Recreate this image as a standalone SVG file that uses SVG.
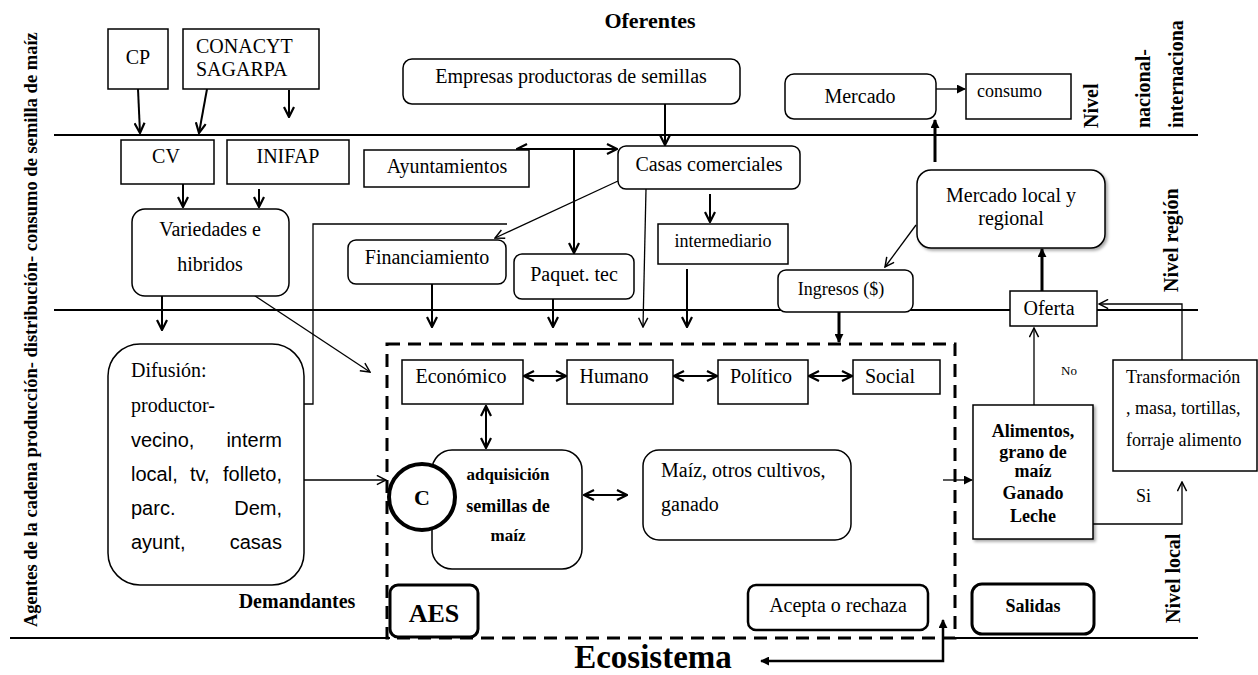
<svg xmlns="http://www.w3.org/2000/svg" width="1258" height="675" viewBox="0 0 1258 675">
<style>
text{font-family:"Liberation Serif","Times New Roman",serif;font-size:20px;fill:#000}
.b{font-weight:bold}
.m{text-anchor:middle}
.sans{font-family:"Liberation Sans",Arial,sans-serif}
.box{fill:#fff;stroke:#000;stroke-width:1.5}
.tb{fill:#fff;stroke:#000;stroke-width:3}
.ln{fill:none;stroke:#000;stroke-width:2}
.c{fill:none;stroke:#000;stroke-width:2}
.th{fill:none;stroke:#000;stroke-width:1.3}
.hk{fill:none;stroke:#000;stroke-width:3}
</style>
<defs>
<marker id="v" viewBox="0 0 12 12" refX="11" refY="6" markerWidth="12" markerHeight="12" markerUnits="userSpaceOnUse" orient="auto-start-reverse"><path d="M1,1 L11,6 L1,11" fill="none" stroke="#000" stroke-width="2.2"/></marker>
<marker id="vs" viewBox="0 0 12 12" refX="11" refY="6" markerWidth="11" markerHeight="11" markerUnits="userSpaceOnUse" orient="auto-start-reverse"><path d="M1,1 L11,6 L1,11" fill="none" stroke="#000" stroke-width="1.6"/></marker>
<marker id="t" viewBox="0 0 10 10" refX="9" refY="5" markerWidth="9" markerHeight="9" markerUnits="userSpaceOnUse" orient="auto-start-reverse"><path d="M0,0 L10,5 L0,10 z" fill="#000"/></marker>
<filter id="sh" x="-10%" y="-10%" width="130%" height="130%"><feDropShadow dx="2" dy="2" stdDeviation="1.5" flood-color="#000" flood-opacity="0.35"/></filter>
</defs>

<g id="level-lines">
<line class="ln" x1="54" y1="135" x2="1198" y2="135"/>
<line class="ln" x1="54" y1="310" x2="1198" y2="310"/>
<line class="ln" x1="10" y1="638" x2="390" y2="638"/>
<line class="ln" x1="955" y1="638" x2="1198" y2="638"/>
</g>

<g id="labels">
<text class="b" font-size="18.5" transform="translate(37,627) rotate(-90)" style="font-size:18.5px">Agentes de la cadena producción- distribución- consumo de semilla de maíz</text>
<text class="b m" x="650" y="28" style="font-size:22px">Oferentes</text>
<text class="b" transform="translate(1098,128) rotate(-90)">Nivel</text>
<text class="b" transform="translate(1150,128) rotate(-90)">nacional-</text>
<text class="b" transform="translate(1183,128) rotate(-90)">internaciona</text>
<text class="b" transform="translate(1178,292) rotate(-90)">Nivel región</text>
<text class="b" transform="translate(1180,623) rotate(-90)">Nivel local</text>
<text class="b m" x="297" y="608">Demandantes</text>
<text class="b m" x="653" y="668" style="font-size:33px">Ecosistema</text>
<text class="m" x="1069" y="375" style="font-size:13px">No</text>
<text x="1136" y="502" style="font-size:18px">Si</text>
</g>

<g id="aes-boundary">
<rect x="387" y="344" width="568" height="294" fill="none" stroke="#000" stroke-width="3" stroke-dasharray="13 8"/>
</g>

<g id="connectors">
<line class="c" x1="138" y1="89" x2="140" y2="133" marker-end="url(#v)"/>
<line class="c" x1="207" y1="89" x2="199" y2="133" marker-end="url(#v)"/>
<line class="c" x1="289" y1="90" x2="289" y2="117" marker-end="url(#v)"/>
<line class="c" x1="183" y1="179" x2="183" y2="207" marker-end="url(#v)"/>
<line class="c" x1="259" y1="189" x2="259" y2="207" marker-end="url(#v)"/>
<line class="c" x1="162" y1="296" x2="162" y2="330" marker-end="url(#v)"/>
<line class="th" x1="237" y1="284" x2="370" y2="372" marker-end="url(#vs)"/>
<path class="th" d="M507,224 H313 V404 H270" marker-end="url(#vs)"/>
<line class="th" x1="278" y1="480" x2="386" y2="480" marker-end="url(#vs)"/>
<line class="c" x1="665" y1="104" x2="665" y2="145" marker-end="url(#v)"/>
<line class="c" x1="517" y1="149" x2="617" y2="149" marker-start="url(#v)" marker-end="url(#v)"/>
<line class="c" x1="574" y1="149" x2="574" y2="253" marker-end="url(#v)"/>
<line class="th" x1="618" y1="181" x2="495" y2="238" marker-end="url(#vs)"/>
<line class="th" x1="646" y1="189" x2="643" y2="327" marker-end="url(#vs)"/>
<line class="c" x1="710" y1="194" x2="710" y2="222" marker-end="url(#v)"/>
<line class="c" x1="687" y1="269" x2="687" y2="327" marker-end="url(#v)"/>
<line class="c" x1="432" y1="284" x2="432" y2="327" marker-end="url(#v)"/>
<line class="c" x1="553" y1="299" x2="553" y2="327" marker-end="url(#v)"/>
<line class="hk" x1="839" y1="312" x2="839" y2="342" marker-end="url(#t)"/>
<line class="th" x1="936" y1="89" x2="965" y2="89" marker-end="url(#t)"/>
<line class="hk" x1="935" y1="162" x2="935" y2="120" marker-end="url(#t)"/>
<line class="th" x1="916" y1="225" x2="885" y2="267" marker-end="url(#vs)"/>
<line class="hk" x1="1042" y1="291" x2="1042" y2="249" marker-end="url(#t)"/>
<line class="th" x1="1034" y1="405" x2="1034" y2="328" marker-end="url(#vs)"/>
<path class="th" d="M1182,360 V304 H1099" marker-end="url(#vs)"/>
<path class="th" d="M1093,524 H1182 V482" marker-end="url(#vs)"/>
<line class="th" x1="943" y1="480" x2="972" y2="480" marker-end="url(#t)"/>
<path fill="none" stroke="#000" stroke-width="2.5" d="M943,620 V661 H761" marker-start="url(#t)" marker-end="url(#t)"/>
<line class="c" x1="524" y1="376" x2="566" y2="376" marker-start="url(#v)" marker-end="url(#v)"/>
<line class="c" x1="674" y1="376" x2="717" y2="376" marker-start="url(#v)" marker-end="url(#v)"/>
<line class="c" x1="809" y1="376" x2="852" y2="376" marker-start="url(#v)" marker-end="url(#v)"/>
<line class="c" x1="486" y1="406" x2="486" y2="448" marker-start="url(#v)" marker-end="url(#v)"/>
<line class="c" x1="584" y1="495" x2="627" y2="495" marker-start="url(#v)" marker-end="url(#v)"/>
</g>

<g id="n-cp"><rect class="box" x="108" y="29" width="60" height="60"/><text class="m" x="138" y="64">CP</text></g>
<g id="n-conacyt"><rect class="box" x="183" y="29" width="136" height="60"/><text x="196" y="53">CONACYT</text><text x="196" y="76">SAGARPA</text></g>
<g id="n-cv"><rect class="box" x="121" y="140" width="93" height="44"/><text class="m" x="166" y="163">CV</text></g>
<g id="n-inifap"><rect class="box" x="227" y="140" width="122" height="44"/><text class="m" x="288" y="163">INIFAP</text></g>
<g id="n-variedades"><rect class="box" x="132" y="209" width="157" height="87" rx="13"/><text class="m" x="210" y="236">Variedades  e</text><text class="m" x="210" y="271">hibridos</text></g>
<g id="n-empresas"><rect class="box" x="403" y="59" width="337" height="45" rx="9"/><text class="m" x="571" y="83">Empresas productoras de semillas</text></g>
<g id="n-ayuntamientos"><rect class="box" x="364" y="150" width="165" height="37"/><text class="m" x="447" y="173">Ayuntamientos</text></g>
<g id="n-casas"><rect class="box" x="618" y="146" width="182" height="43" rx="8"/><text class="m" x="709" y="171">Casas comerciales</text></g>
<g id="n-financiamiento"><rect class="box" x="348" y="240" width="158" height="44" rx="8"/><text class="m" x="427" y="264">Financiamiento</text></g>
<g id="n-paquet"><rect class="box" x="514" y="254" width="120" height="45" rx="8"/><text class="m" x="574" y="281">Paquet. tec</text></g>
<g id="n-intermediario"><rect class="box" x="658" y="224" width="130" height="40"/><text class="m" x="723" y="247" style="font-size:18px">intermediario</text></g>
<g id="n-ingresos"><rect class="box" x="778" y="270" width="135" height="42" rx="8"/><text class="m" x="841" y="295" style="font-size:18px">Ingresos ($)</text></g>
<g id="n-mercado"><rect class="box" x="785" y="74" width="151" height="45" rx="9"/><text class="m" x="860" y="103">Mercado</text></g>
<g id="n-consumo"><rect class="box" x="966" y="74" width="105" height="45"/><text x="977" y="97" style="font-size:18px">consumo</text></g>
<g id="n-mercado-local"><rect class="box" x="917" y="170" width="188" height="78" rx="14" filter="url(#sh)"/><text class="m" x="1011" y="202">Mercado local y</text><text class="m" x="1011" y="225">regional</text></g>
<g id="n-oferta"><rect class="box" x="1010" y="291" width="87" height="35"/><text class="m" x="1049" y="315">Oferta</text></g>

<g id="n-difusion"><rect class="box" x="108" y="344" width="196" height="241" rx="32"/>
<text x="131" y="377">Difusión:</text>
<text x="131" y="412">productor-</text>
<text class="sans" x="131" y="447">vecino,</text><text class="sans" x="282" y="447" text-anchor="end">interm</text>
<text class="sans" x="131" y="481">local,</text><text class="sans" x="190" y="481">tv,</text><text class="sans" x="282" y="481" text-anchor="end">folleto,</text>
<text class="sans" x="131" y="515">parc.</text><text class="sans" x="282" y="515" text-anchor="end">Dem,</text>
<text class="sans" x="131" y="549">ayunt,</text><text class="sans" x="282" y="549" text-anchor="end">casas</text>
</g>

<g id="n-economico"><rect class="box" x="402" y="360" width="121" height="44"/><text class="m" x="461" y="383">Económico</text></g>
<g id="n-humano"><rect class="box" x="567" y="360" width="106" height="44"/><text class="m" x="614" y="383">Humano</text></g>
<g id="n-politico"><rect class="box" x="718" y="360" width="90" height="44"/><text class="m" x="761" y="383">Político</text></g>
<g id="n-social"><rect class="box" x="853" y="360" width="87" height="34"/><text class="m" x="890" y="383">Social</text></g>
<g id="n-adquisicion"><rect class="box" x="432" y="450" width="150" height="119" rx="20"/><text class="b m" x="508" y="480" style="font-size:17px">adquisición</text><text class="b m" x="508" y="512" style="font-size:18px">semillas de</text><text class="b m" x="508" y="541" style="font-size:17px">maíz</text></g>
<g id="n-c"><circle cx="422" cy="497" r="33" fill="#fff" stroke="#000" stroke-width="4"/><text class="b m" x="422" y="505" style="font-size:22px">C</text></g>
<g id="n-maiz"><rect class="box" x="643" y="450" width="208" height="90" rx="16"/><text x="661" y="477">Maíz, otros cultivos,</text><text x="661" y="511">ganado</text></g>
<g id="n-aes"><rect class="tb" x="390" y="585" width="88" height="52" rx="8"/><text class="b m" x="434" y="622" style="font-size:26px">AES</text></g>
<g id="n-acepta"><rect class="box" x="748" y="585" width="180" height="45" rx="8" style="stroke-width:2.5"/><text class="m" x="838" y="612">Acepta o rechaza</text></g>

<g id="n-alimentos"><rect class="box" x="973" y="405" width="120" height="134" filter="url(#sh)"/>
<text class="b m" x="1033" y="437" style="font-size:18px">Alimentos,</text>
<text class="b m" x="1033" y="458" style="font-size:18px">grano de</text>
<text class="b m" x="1033" y="477" style="font-size:18px">maíz</text>
<text class="b m" x="1033" y="499" style="font-size:18px">Ganado</text>
<text class="b m" x="1033" y="522" style="font-size:18px">Leche</text></g>
<g id="n-transformacion"><rect class="box" x="1113" y="360" width="144" height="111"/>
<text x="1126" y="383" style="font-size:18px">Transformación</text>
<text x="1126" y="414" style="font-size:18px">, masa, tortillas,</text>
<text x="1126" y="446" style="font-size:18px">forraje alimento</text></g>
<g id="n-salidas"><rect class="tb" x="972" y="584" width="122" height="50" rx="10"/><text class="b m" x="1033" y="612" style="font-size:18px">Salidas</text></g>
</svg>
